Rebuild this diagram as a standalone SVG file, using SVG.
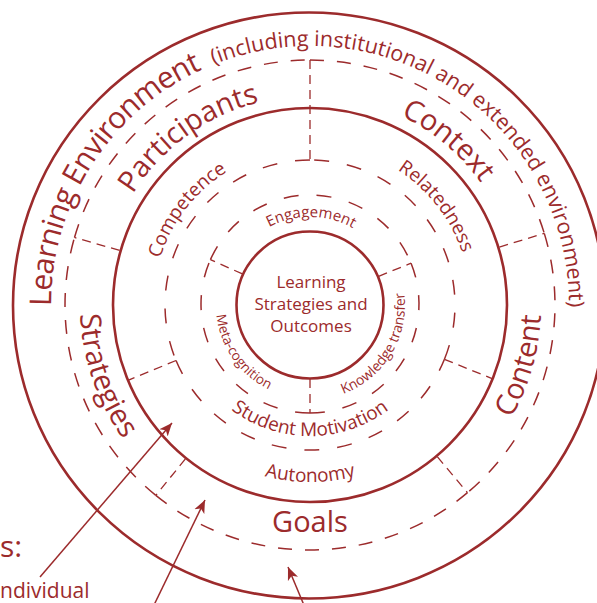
<svg xmlns="http://www.w3.org/2000/svg" xmlns:xlink="http://www.w3.org/1999/xlink" width="597" height="603" viewBox="0 0 597 603">
<style>
.s{fill:none;stroke:#9c2b2c;stroke-width:2.6}
.d1{fill:none;stroke:#9c2b2c;stroke-width:1.5;stroke-dasharray:14 13}
.d2{fill:none;stroke:#9c2b2c;stroke-width:1.5;stroke-dasharray:15 18}
.dv{fill:none;stroke:#9c2b2c;stroke-width:1.3;stroke-dasharray:9 6}
.ar{fill:none;stroke:#9c2b2c;stroke-width:1.5;marker-end:url(#ah)}
text{font-family:"Open Sans","Noto Sans",sans-serif;fill:#9c2b2c}
.big{font-size:29px}
.mid{font-size:19px}
</style>
<defs>
<marker id="ah" markerUnits="userSpaceOnUse" markerWidth="14" markerHeight="12" refX="13" refY="6" orient="auto">
<path d="M0,0.5 L13,6 L0,11.5 L3.5,6 Z" fill="#9c2b2c"/>
</marker>
<path id="pOuter" d="M54.93,349.97 A259,259 0 1 1 565.07,349.97"/>
<path id="pPart" d="M104.17,268.71 A209,209 0 0 1 346.29,99.17"/>
<path id="pCtx" d="M310,95 A210,210 0 0 1 520,305"/>
<path id="pCont" d="M425.5,505.05 A231,231 0 0 0 510.05,189.5"/>
<path id="pStr" d="M93.87,226.34 A230,230 0 0 0 195,504.19"/>
<path id="pComp" d="M153,305 A157,157 0 0 1 310,148"/>
<path id="pRel" d="M310,144 A161,161 0 0 1 471,305"/>
<path id="pAut" d="M156.71,393.5 A177,177 0 0 0 463.29,393.5"/>
<path id="pStu" d="M196.55,370.5 A131,131 0 0 0 423.45,370.5"/>
<path id="pEng" d="M233.79,261 A88,88 0 0 1 386.21,261"/>
<path id="pMeta" d="M221.67,272.85 A94,94 0 0 0 310,399"/>
<path id="pKno" d="M293.5,398.56 A95,95 0 0 0 382.77,243.93"/>
</defs>
<rect width="597" height="603" fill="#ffffff"/>

<g id="ring-learning-environment">
<ellipse class="s" cx="309" cy="305.5" rx="296" ry="293"/>
<text font-size="30" letter-spacing="-0.7"><textPath xlink:href="#pOuter" href="#pOuter" startOffset="44">Learning Environment</textPath></text>
<text font-size="21.5"><textPath xlink:href="#pOuter" href="#pOuter" startOffset="353">(including institutional and extended environment)</textPath></text>
</g>

<g id="ring-dashed-outer">
<path class="d1" d="M74.49,237.47 A245,245 0 0 1 310,60"/>
<path class="d1" d="M310,60 A245,245 0 0 1 544.29,233.37"/>
<path class="d1" d="M544.29,233.37 A245,245 0 0 1 467.48,492.68"/>
<path class="d1" d="M467.48,492.68 A245,245 0 0 1 155.82,495.40"/>
<path class="d1" d="M155.82,495.40 A245,245 0 0 1 74.49,237.47"/>
</g>

<g id="node-participants"><text class="big" text-anchor="middle"><textPath xlink:href="#pPart" href="#pPart" startOffset="160.5">Participants</textPath></text></g>
<g id="node-context"><text class="big" text-anchor="middle"><textPath xlink:href="#pCtx" href="#pCtx" startOffset="146.6">Context</textPath></text></g>
<g id="node-content"><text class="big" text-anchor="middle"><textPath xlink:href="#pCont" href="#pCont" startOffset="177.4">Content</textPath></text></g>
<g id="node-goals"><text class="big" text-anchor="middle" x="310" y="532">Goals</text></g>
<g id="node-strategies"><text class="big" text-anchor="middle"><textPath xlink:href="#pStr" href="#pStr" startOffset="156.6">Strategies</textPath></text></g>

<g id="ring-solid-middle"><circle class="s" cx="310" cy="305" r="197"/></g>

<g id="node-competence"><text class="mid" font-size="18.5" text-anchor="middle"><textPath xlink:href="#pComp" href="#pComp" startOffset="103.3">Competence</textPath></text></g>
<g id="node-relatedness"><text class="mid" text-anchor="middle"><textPath xlink:href="#pRel" href="#pRel" startOffset="146.1">Relatedness</textPath></text></g>
<g id="node-autonomy"><text class="mid" text-anchor="middle"><textPath xlink:href="#pAut" href="#pAut" startOffset="185.4">Autonomy</textPath></text></g>

<g id="ring-dashed-middle">
<path class="d2" d="M310,160 A145,145 0 0 0 176.04,360.49"/>
<path class="d2" d="M176.04,360.49 A145,145 0 0 0 444.44,359.32"/>
<path class="d2" d="M444.44,359.32 A145,145 0 0 0 310,160"/>
</g>

<g id="node-student-motivation"><text class="mid" text-anchor="middle"><textPath xlink:href="#pStu" href="#pStu" startOffset="137.2">Student Motivation</textPath></text></g>

<g id="ring-dashed-inner">
<path class="d2" d="M310,413 A109,109 0 0 1 210.42,259.67"/>
<path class="d2" d="M210.42,259.67 A109,109 0 0 1 411.06,263.17"/>
<path class="d2" d="M411.06,263.17 A109,109 0 0 1 310,413"/>
</g>

<g id="node-engagement"><text font-size="15" text-anchor="middle"><textPath xlink:href="#pEng" href="#pEng" startOffset="93.2">Engagement</textPath></text></g>
<g id="node-meta-cognition"><text font-size="13.5" text-anchor="middle"><textPath xlink:href="#pMeta" href="#pMeta" startOffset="90.2">Meta-cognition</textPath></text></g>
<g id="node-knowledge-transfer"><text font-size="14" text-anchor="middle"><textPath xlink:href="#pKno" href="#pKno" startOffset="114.4">Knowledge transfer</textPath></text></g>

<g id="node-core">
<circle class="s" cx="310" cy="305" r="73.5"/>
<text font-size="17" text-anchor="middle" x="311" y="288">Learning</text>
<text font-size="17" text-anchor="middle" x="311" y="310">Strategies and</text>
<text font-size="17" text-anchor="middle" x="311" y="332">Outcomes</text>
</g>

<g id="dividers">
<path class="dv" d="M310,60 L310,160"/>
<path class="dv" d="M119.67,250.42 L74.49,237.47"/>
<path class="dv" d="M499.35,247.11 L544.29,233.37"/>
<path class="dv" d="M437.27,456.68 L467.48,492.68"/>
<path class="dv" d="M185.39,458.88 L155.82,495.40"/>
<path class="dv" d="M176.04,360.49 L128,380.39"/>
<path class="dv" d="M444.44,359.32 L492.65,378.8"/>
<path class="dv" d="M310,379 L310,413"/>
<path class="dv" d="M242.4,273.9 L210.42,259.67"/>
<path class="dv" d="M378.61,276.28 L411.06,263.17"/>
</g>

<g id="connectors">
<path class="ar" d="M40,577 L172,423"/>
<path class="ar" d="M154,605 L205,500"/>
<path class="ar" d="M306,610 L288,567"/>
</g>

<g id="legend">
<text font-size="30" x="0" y="557">s:</text>
<text font-size="21" x="0" y="598">ndividual</text>
</g>
</svg>
